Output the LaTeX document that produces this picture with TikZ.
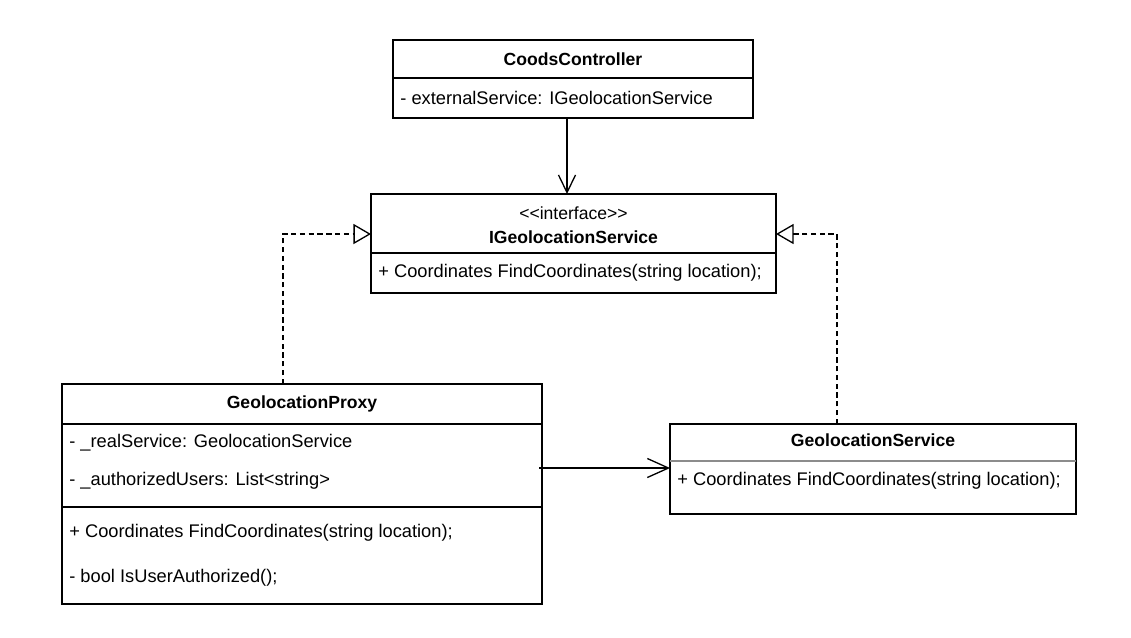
\documentclass[tikz,border=0pt]{standalone}
\usepackage{fontspec}
\setmainfont{Liberation Sans}
\usetikzlibrary{arrows.meta}

\tikzset{
  compart/.style={draw, line width=0.75pt, outer sep=0pt, inner sep=0pt,
    minimum width=#1},
  title/.style={font=\bfseries, align=center},
  member/.style={anchor=west, inner xsep=0.14cm, inner ysep=0pt},
  uses/.style={line width=0.75pt, -{Straight Barb[length=10pt,width=9.7pt,line width=0.75pt]}},
  realize/.style={line width=0.75pt, dash pattern=on 3pt off 2pt,
    -{Triangle[open,length=10pt,width=11.4pt,line width=0.75pt,fill=white]}},
  assoc/.style={line width=0.75pt, -{Straight Barb[length=12pt,width=10.8pt,line width=0.75pt]}},
}

\begin{document}
\begin{tikzpicture}[x=0.02cm,y=-0.02cm,font=\fontsize{10.4}{12.4}\selectfont]
  \useasboundingbox[fill=white] (0,0) rectangle (1131,637);

  %% CoodsController
  \node[compart=7.2cm, minimum height=0.76cm] (ctrlHead) at (573,59) {};
  \node[title] (ctrlName) at (ctrlHead) {CoodsController};
  \node[compart=7.2cm, minimum height=0.8cm] (ctrlBody) at (573,98) {};
  \node[member] (ctrlExt) at (393,98) {- externalService: IGeolocationService};

  %% IGeolocationService
  \node[compart=8.1cm, minimum height=1.18cm] (ifaceHead) at (573.5,223.5) {};
  \node[title] (ifaceName) at (573.5,225)
    {\mdseries {<}{<}interface{>}{>}\\[1.5pt] IGeolocationService};
  \node[compart=8.1cm, minimum height=0.8cm] (ifaceBody) at (573.5,273) {};
  \node[member] (ifaceFind) at (371,273)
    {+ Coordinates FindCoordinates(string location);};

  %% GeolocationProxy
  \node[compart=9.6cm, minimum height=0.8cm] (proxyHead) at (302,404) {};
  \node[title] (proxyName) at (proxyHead) {GeolocationProxy};
  \node[compart=9.6cm, minimum height=1.66cm] (proxyAttr) at (302,465.5) {};
  \node[member] (proxyReal) at (62,443) {- \_realService: GeolocationService};
  \node[member] (proxyUsers) at (62,481) {- \_authorizedUsers: List<string>};
  \node[compart=9.6cm, minimum height=1.94cm] (proxyOps) at (302,555.5) {};
  \node[member] (proxyFind) at (62,533)
    {+ Coordinates FindCoordinates(string location);};
  \node[member] (proxyAuth) at (62,578) {- bool IsUserAuthorized();};

  %% GeolocationService
  \node[compart=8.12cm, minimum height=1.8cm] (svcBox) at (873,469) {};
  \node[title] (svcName) at (873,440) {GeolocationService};
  \draw[line width=0.6pt, black!45] ([yshift=-0.74cm]svcBox.north west)
    -- ([yshift=-0.74cm]svcBox.north east);
  \node[member] (svcFind) at (670,481)
    {+ Coordinates FindCoordinates(string location);};

  %% connectors
  \coordinate (ctrlOut) at (567,118);
  \coordinate (proxyUp) at (283,384);
  \coordinate (svcUp) at (837,424);
  \coordinate (ifaceInL) at (371,234);
  \coordinate (ifaceInR) at (776,234);
  \coordinate (assocFrom) at (539,468);

  \draw[uses] (ctrlOut) -- (ctrlOut |- ifaceHead.north);
  \draw[realize] (proxyUp) |- (ifaceInL);
  \draw[realize] (svcUp) |- (ifaceInR);
  \draw[assoc] (assocFrom) -- (assocFrom -| svcBox.west);
\end{tikzpicture}
\end{document}
